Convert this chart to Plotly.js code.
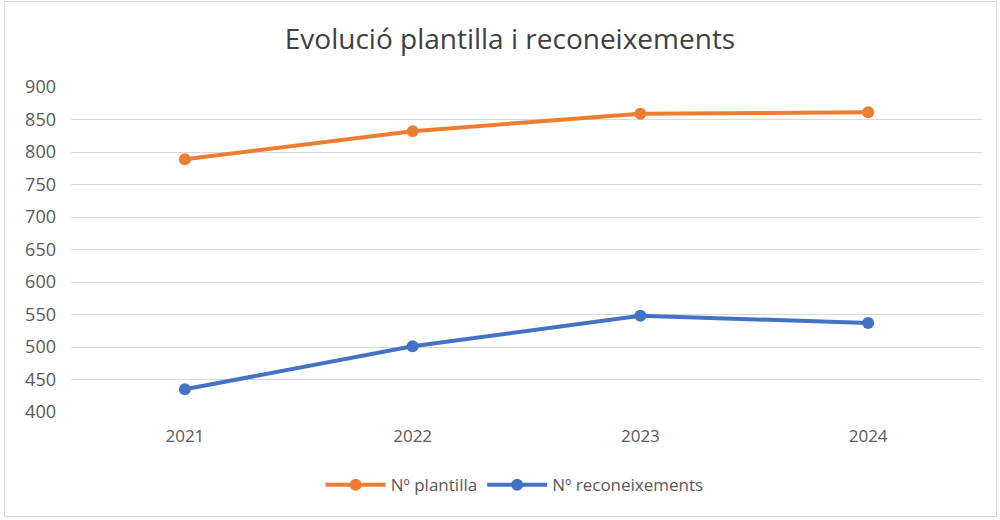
<!DOCTYPE html>
<html>
<head>
<meta charset="utf-8">
<script src="https://cdn.plot.ly/plotly-3.0.1.min.js"></script>
<style>
html,body{margin:0;padding:0;background:#fff;}
#wrap{position:relative;width:1000px;height:520px;}
#chart{width:1000px;height:520px;}
#frame{position:absolute;left:4px;top:1px;width:991px;height:514px;border:1px solid #d9d9d9;pointer-events:none;}
</style>
</head>
<body>
<div id="wrap"><div id="chart"></div><div id="frame"></div></div>
<script>
const years = ['2021', '2022', '2023', '2024'];
const plantilla = [789, 832, 859, 861];
const reconeixements = [435, 501, 548, 537];
const yTicks = [400, 450, 500, 550, 600, 650, 700, 750, 800, 850, 900];

const font = '"Open Sans", "Noto Sans", sans-serif';

const traces = [
  {
    x: years, y: plantilla, name: 'Nº plantilla', type: 'scatter', mode: 'lines+markers',
    line: {color: '#ED7D31', width: 4}, marker: {color: '#ED7D31', size: 12}
  },
  {
    x: years, y: reconeixements, name: 'Nº reconeixements', type: 'scatter', mode: 'lines+markers',
    line: {color: '#4472C4', width: 4}, marker: {color: '#4472C4', size: 12}
  }
];

const layout = {
  width: 1000, height: 520,
  margin: {l: 71, r: 18, t: 87, b: 108},
  paper_bgcolor: '#ffffff', plot_bgcolor: '#ffffff',
  font: {family: font, color: '#595959', size: 16},
  title: {text: 'Evolució plantilla i reconeixements', font: {family: font, size: 28, color: '#404040'}, x: 0.51, xanchor: 'center', y: 0.925, yanchor: 'middle'},
  showlegend: true,
  legend: {orientation: 'h', x: 0.487, xanchor: 'center', y: -0.225, yanchor: 'middle', font: {size: 17, color: '#595959'}, itemwidth: 60},
  xaxis: {type: 'category', range: [-0.5, 3.5], showgrid: false, zeroline: false, showline: false, ticks: '', ticklabelstandoff: 12, tickfont: {size: 17}, fixedrange: true},
  yaxis: {range: [400, 900], tickvals: yTicks, showgrid: true, gridcolor: '#d9d9d9', gridwidth: 1, zeroline: false, showline: false, ticks: '', ticklabelstandoff: 14, tickfont: {size: 18}, fixedrange: true}
};

Plotly.newPlot('chart', traces, layout, {displayModeBar: false, staticPlot: true});
</script>
</body>
</html>
